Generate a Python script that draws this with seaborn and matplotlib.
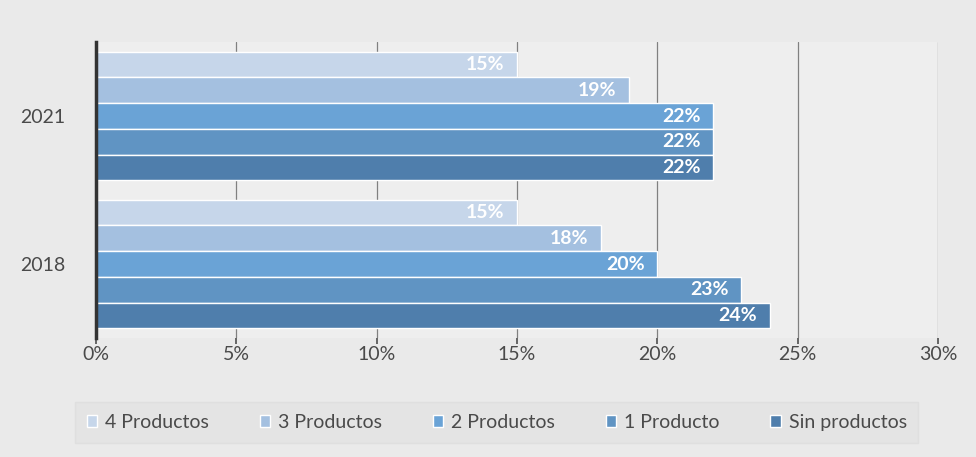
import matplotlib
matplotlib.use("Agg")
import matplotlib.pyplot as plt
import seaborn as sns
import pandas as pd

years = ["2021", "2018"]
series = ["4 Productos", "3 Productos", "2 Productos", "1 Producto", "Sin productos"]
values_2021 = [15, 19, 22, 22, 22]
values_2018 = [15, 18, 20, 23, 24]
colors = ["#c6d6ea", "#a4c0e0", "#6aa3d6", "#6094c3", "#4f7eac"]
xticks = [0, 5, 10, 15, 20, 25, 30]

rows = []
for y, vals in zip(years, [values_2021, values_2018]):
    for s, v in zip(series, vals):
        rows.append({"year": y, "serie": s, "value": v})
df = pd.DataFrame(rows)

sns.set_theme(style="white")
plt.rcParams["font.family"] = ["Lato", "DejaVu Sans"]

fig = plt.figure(figsize=(9.76, 4.57), dpi=100)
fig.patch.set_facecolor("#eaeaea")
ax = fig.add_axes([0.0984, 0.2604, 0.8626, 0.6476])
ax.set_facecolor("#eeeeee")

sns.barplot(data=df, y="year", x="value", hue="serie", order=years,
            hue_order=series, palette=colors, orient="h", width=0.87,
            edgecolor="white", linewidth=1, saturation=1, ax=ax, legend=True)

for cont in ax.containers:
    texts = ax.bar_label(cont, labels=[f"{int(v)}%" for v in cont.datavalues],
                         padding=-9, label_type="edge", color="white",
                         fontsize=14, fontweight="bold")
    for t in texts:
        t.set_ha("right")

ax.set_xlim(0, 30)
ax.set_xticks(xticks)
ax.set_xticklabels([f"{t}%" for t in xticks], fontsize=14, color="#4a4a4a")
ax.tick_params(axis="y", labelsize=14, colors="#4a4a4a", length=0, pad=22)
ax.tick_params(axis="x", pad=2, length=4, color="#555555", bottom=True)
ax.set_xlabel("")
ax.set_ylabel("")
ax.xaxis.grid(True, color="#808080", linewidth=0.9)
ax.set_axisbelow(True)
for s in ["top", "right", "bottom"]:
    ax.spines[s].set_visible(False)
ax.spines["left"].set_color("#333333")
ax.spines["left"].set_linewidth(2.5)

ax.legend(loc="upper center", bbox_to_anchor=(0.476, -0.185), ncol=5,
          frameon=True, facecolor="#e3e3e3", edgecolor="#dddddd",
          fontsize=14, handlelength=0.55, handleheight=0.55,
          columnspacing=2.6, handletextpad=0.4, borderpad=0.6,
          labelcolor="#4a4a4a", fancybox=False)

fig.savefig("out.png", dpi=100, facecolor=fig.get_facecolor())
